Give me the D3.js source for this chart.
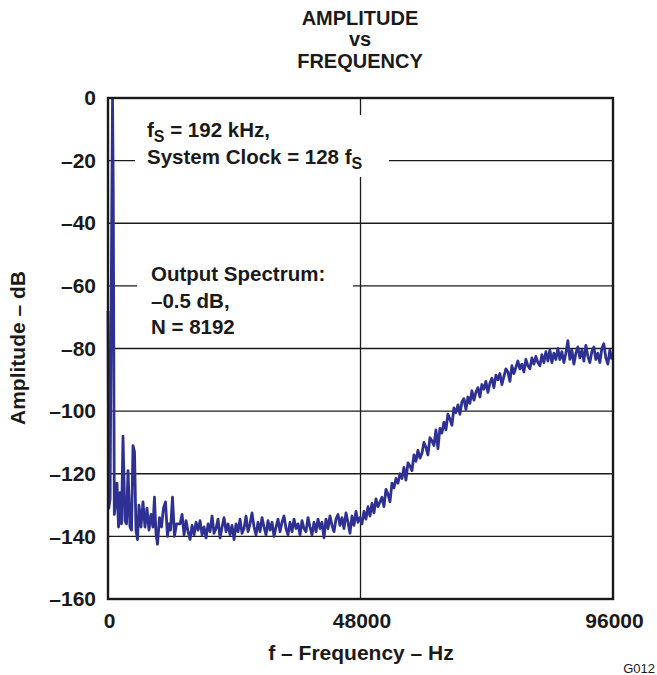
<!DOCTYPE html>
<html>
<head>
<meta charset="utf-8">
<script src="https://cdn.jsdelivr.net/npm/d3@7/dist/d3.min.js"></script>
<style>
  html, body { margin: 0; padding: 0; background: #fff; }
  svg { display: block; font-family: "Liberation Sans", Arial, sans-serif; }
</style>
</head>
<body>
<svg id="chart" width="657" height="675"></svg>
<script>
// ---- data ----
const titleLines = ["AMPLITUDE", "vs", "FREQUENCY"];
const xTicks = [0, 48000, 96000];
const yTicks = [0, -20, -40, -60, -80, -100, -120, -140, -160];
const xGrid = [48000];
const yGrid = [-20, -40, -60, -80, -100, -120, -140];

// low-frequency part (fundamental + harmonics), explicit [Hz, dB]
const lowFreq = [0, 150, 400, 700, 860, 1000, 1200, 1330, 1710, 2000, 2280, 2570, 2850, 3230, 3520, 3800,
  4180, 4470, 4750, 5040, 5320, 5610, 5890, 6270, 6650, 7030, 7410, 7790, 8170, 8550, 8830, 9120, 9410,
  9790, 10170, 10550, 10930, 11310, 11590, 11880, 12260, 12640, 13020];
const lowDb = [-68, -131, -128, -40, -0.5, -30, -133, -131, -123, -137, -126, -136, -108, -135, -136, -119,
  -137, -138, -111, -113, -138, -141, -130, -137, -129, -137, -131, -138, -133, -137, -127.5, -139, -142.5,
  -134, -137, -131, -129, -140, -136, -138, -127.5, -140, -136];

// remaining spectrum, uniformly spaced bins
const restStartHz = 13700;
const restStepHz = 380;
const restDb = [
  -136, -133, -139.5, -135, -138.5, -141, -136.5, -139.5, -135.5, -138,
  -135, -139.5, -137, -140.5, -136, -138.5, -133.5, -139, -137.5, -134.5,
  -140.5, -137, -134, -138.5, -136, -139.5, -136.5, -141, -136, -138.5,
  -134.5, -139, -137.5, -133.5, -138.5, -136, -132.5, -137, -139.5, -135.5,
  -138.5, -134, -137, -139.5, -135, -138, -135.5, -140, -137, -134.5,
  -138.5, -135.5, -133.5, -137.5, -139.5, -135.5, -138.5, -134.5, -137.5, -136,
  -139.5, -135, -137.5, -138.5, -134, -137, -139.5, -135.5, -138.5, -134.5,
  -137.5, -135.5, -140.5, -134.5, -137.5, -133.5, -136.5, -138.5, -134.5, -133,
  -136.5, -134, -137.5, -132.5, -135.5, -139, -133.5, -136.5, -132, -135.5,
  -134, -136, -132, -134.5, -130.5, -133.5, -129.5, -132.5, -128, -130.5,
  -129, -127.5, -130.5, -125, -126.5, -129, -123, -124.5, -121.5, -123,
  -120, -121.5, -118, -122, -116.5, -117.5, -119, -114, -116, -112.5,
  -115, -113.5, -110, -111.5, -114, -108.5, -109.5, -111, -106, -112,
  -105.5, -107, -103.5, -106, -101, -102.5, -104.5, -99, -100.5, -98,
  -101, -97, -96, -99.5, -95.5, -97.5, -93.5, -96.5, -94, -92.5,
  -95.5, -91.5, -93, -90.5, -94, -91, -89.5, -92.5, -88.5, -90,
  -88, -91.5, -89, -86.5, -87.5, -90.5, -85.5, -88, -86, -84,
  -86.5, -85, -87.5, -83.5, -85.5, -86.5, -83, -85, -82.5, -84.5,
  -85.5, -82, -84.5, -81, -84, -80.5, -84.5, -81.5, -83.5, -80,
  -83.5, -81, -84.5, -81.5, -77.5, -83.5, -80.5, -85, -81.5, -79.5,
  -83, -80.5, -84, -79, -82.5, -84.5, -81, -79.5, -83.5, -81.5,
  -84.5, -80, -78.5, -83, -85, -80.5, -83.5
];

// ---- build points ----
const points = lowFreq.map((f, i) => ({ f, db: lowDb[i] }))
  .concat(restDb.map((db, i) => ({ f: restStartHz + i * restStepHz, db })));

// ---- layout ----
const svg = d3.select("#chart");
const L = 108, R = 613, T = 98, B = 599;
const x = d3.scaleLinear().domain([0, 96000]).range([L, R]);
const y = d3.scaleLinear().domain([-160, 0]).range([B, T]);
const fmt = d => d < 0 ? "\u2013" + Math.abs(d) : String(d);
const ink = "#1a1a1a";
const FONT = "'Liberation Sans', Arial, sans-serif";

// grid
svg.append("g").selectAll("line.h").data(yGrid).join("line")
  .attr("x1", L).attr("x2", R).attr("y1", d => y(d)).attr("y2", d => y(d))
  .attr("stroke", ink).attr("stroke-width", 1.3);
svg.append("g").selectAll("line.v").data(xGrid).join("line")
  .attr("x1", d => x(d)).attr("x2", d => x(d)).attr("y1", T).attr("y2", B)
  .attr("stroke", ink).attr("stroke-width", 1.3);

// annotation backgrounds (break grid lines)
svg.append("rect").attr("x", 135).attr("y", 115).attr("width", 254).attr("height", 62).attr("fill", "#fff");
svg.append("rect").attr("x", 137).attr("y", 262).attr("width", 216).attr("height", 78).attr("fill", "#fff");

// data line
const line = d3.line().x(d => x(d.f)).y(d => y(d.db));
svg.append("path").datum(points)
  .attr("d", line).attr("fill", "none")
  .attr("stroke", "#2e3192").attr("stroke-width", 2.8).attr("stroke-linejoin", "round");

// frame
svg.append("rect").attr("x", L).attr("y", T).attr("width", R - L).attr("height", B - T)
  .attr("fill", "none").attr("stroke", ink).attr("stroke-width", 2.4);

// axes
const yAxis = d3.axisLeft(y).tickValues(yTicks).tickSize(0).tickPadding(12).tickFormat(fmt);
const gy = svg.append("g").attr("transform", `translate(${L},0)`).call(yAxis);
gy.select(".domain").remove();
gy.selectAll("text").attr("font-size", 21).attr("font-weight", "bold").attr("fill", ink)
  .attr("font-family", FONT);

const xAxis = d3.axisBottom(x).tickValues(xTicks).tickSize(0).tickPadding(14).tickFormat(fmt);
const gx = svg.append("g").attr("transform", `translate(1,${B})`).call(xAxis);
gx.select(".domain").remove();
gx.selectAll("text").attr("font-size", 21).attr("font-weight", "bold").attr("fill", ink)
  .attr("font-family", FONT);

// title
svg.append("g").selectAll("text").data(titleLines).join("text")
  .attr("x", 360).attr("y", (d, i) => [25, 46, 68][i])
  .attr("text-anchor", "middle").attr("font-size", 20).attr("font-weight", "bold").attr("fill", ink)
  .text(d => d);

// axis titles
svg.append("text").attr("x", 361).attr("y", 660).attr("text-anchor", "middle")
  .attr("font-size", 21).attr("font-weight", "bold").attr("fill", ink)
  .text("f \u2013 Frequency \u2013 Hz");
svg.append("text").attr("transform", "translate(25,348) rotate(-90)").attr("text-anchor", "middle")
  .attr("font-size", 21).attr("font-weight", "bold").attr("fill", ink)
  .text("Amplitude \u2013 dB");
svg.append("text").attr("x", 655).attr("y", 673).attr("text-anchor", "end")
  .attr("font-size", 13).attr("fill", ink).text("G012");

// annotations
function subText(xp, yp, parts) {
  const t = svg.append("text").attr("x", xp).attr("y", yp)
    .attr("font-size", 20.5).attr("font-weight", "bold").attr("fill", ink);
  parts.forEach(p => {
    const s = t.append("tspan").text(p.t);
    if (p.sub) s.attr("font-size", 16).attr("dy", 5);
    else if (p.after) s.attr("dy", -5);
  });
}
subText(147, 137, [{ t: "f" }, { t: "S", sub: true }, { t: " = 192 kHz,", after: true }]);
subText(147, 164, [{ t: "System Clock = 128 f" }, { t: "S", sub: true }]);
subText(151, 281, [{ t: "Output Spectrum:" }]);
subText(151, 308, [{ t: "\u20130.5 dB," }]);
subText(151, 334, [{ t: "N = 8192" }]);
</script>
</body>
</html>
